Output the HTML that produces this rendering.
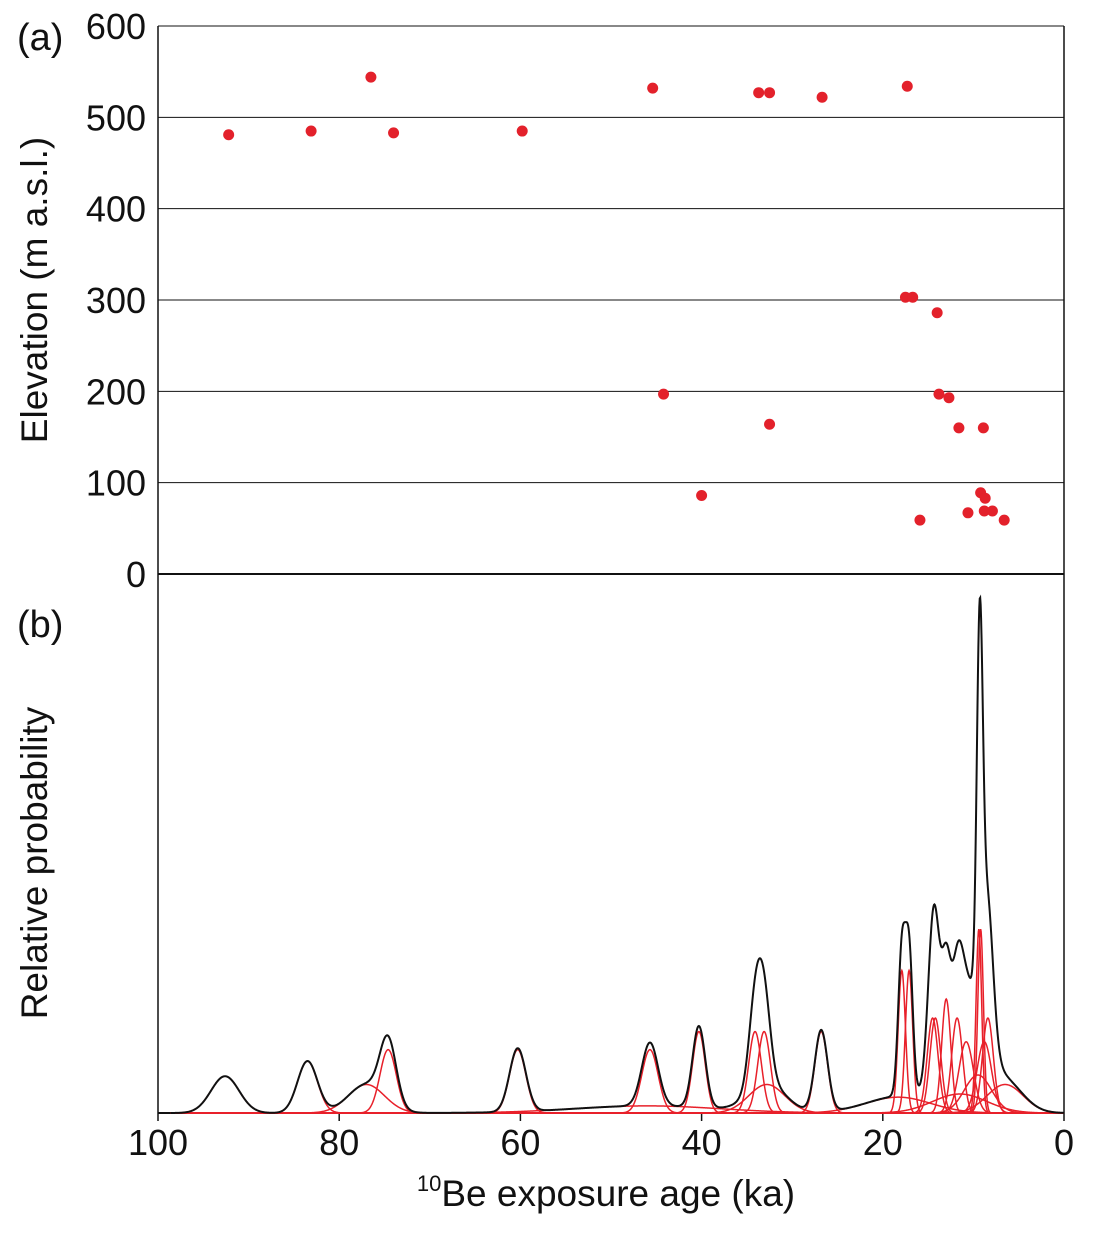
<!DOCTYPE html>
<html><head><meta charset="utf-8"><style>
body{margin:0;background:#fff}
svg text{font-family:"Liberation Sans",Arial,sans-serif;fill:#111}
</style></head><body>
<svg id="c" width="1094" height="1231" xmlns="http://www.w3.org/2000/svg">
<g id="axes"></g><g id="marks"></g>
</svg>
<script>
const ptAges=[92.2,83.1,76.5,74.0,59.8,45.4,44.2,40.0,33.7,32.5,32.5,26.7,17.3,17.5,16.7,15.9,14.0,13.8,12.7,11.6,8.9,10.6,9.2,8.7,8.8,7.9,6.6];
const ptElev=[481,485,544,483,485,532,197,86,527,527,164,522,534,303,303,59,286,197,193,160,160,67,89,83,69,69,59];
const pdfAges=[92.6,83.5,77.0,74.6,60.3,45.7,40.3,34.1,33.1,32.8,26.8,17.9,17.1,18.3,46,14.5,14.2,13.0,11.8,10.8,9.4,9.2,9.5,8.8,8.4,6.5,11.5];
const pdfSig=[1.55,1.1,2.0,0.9,0.9,0.9,0.7,0.7,0.7,2.0,0.7,0.4,0.4,3.6,8,0.6,0.6,0.5,0.6,0.8,0.31,0.31,1.5,0.8,0.6,2.0,3.0];
const elevTicks=[0,100,200,300,400,500,600];
const ageTicks=[100,80,60,40,20,0];
const NS="http://www.w3.org/2000/svg";
const X=a=>1064-(a/100)*906;
const YA=e=>574-e*0.9133;
const YB=p=>1113-57*p;
const ax=document.getElementById('axes'),mk=document.getElementById('marks');
function el(t,a,p){const e=document.createElementNS(NS,t);for(const k in a)e.setAttribute(k,a[k]);(p||ax).appendChild(e);return e;}
elevTicks.forEach(v=>{
 const l=el('line',{x1:158,x2:1064,y1:YA(v),y2:YA(v),stroke:'#111','stroke-width':v==0?2:1});
 
 
 const t=el('text',{x:146,y:YA(v)+13,'text-anchor':'end','font-size':36});t.textContent=v;
 
 
});
el('line',{x1:158,x2:158,y1:26,y2:1113,stroke:'#111','stroke-width':1.5});
el('line',{x1:1064,x2:1064,y1:26,y2:1113,stroke:'#111','stroke-width':1.5});
el('line',{x1:158,x2:1064,y1:1113,y2:1113,stroke:'#111','stroke-width':2});
ageTicks.forEach(v=>{
 el('line',{x1:X(v),x2:X(v),y1:1113,y2:1121,stroke:'#111','stroke-width':1.5});
 const t=el('text',{x:X(v),y:1155,'text-anchor':'middle','font-size':36});t.textContent=v;
 
 
});
let t=el('text',{x:17,y:50,'font-size':38});t.textContent='(a)';

t=el('text',{x:17,y:637,'font-size':38});t.textContent='(b)';

t=el('text',{x:0,y:0,'font-size':37,'text-anchor':'middle',transform:'translate(47,290) rotate(-90)'});t.textContent='Elevation (m a.s.l.)';

t=el('text',{x:0,y:0,'font-size':37,'text-anchor':'middle',transform:'translate(47,863) rotate(-90)'});t.textContent='Relative probability';

t=el('text',{x:606,y:1206,'font-size':37,'text-anchor':'middle'});
t.innerHTML='<tspan font-size="22" dy="-15">10</tspan><tspan dy="15">Be exposure age (ka)</tspan>';

const g=(a,m,s)=>Math.exp(-0.5*((a-m)/s)**2)/s;
const step=0.05;
for(let i=0;i<pdfAges.length;i++){
 let d='';
 for(let a=98.6;a>=0;a-=step){d+=(d?'L':'M')+X(a).toFixed(2)+','+YB(g(a,pdfAges[i],pdfSig[i])).toFixed(2);}
 const p=el('path',{d:d,fill:'none',stroke:'#e8202a','stroke-width':1.5},mk);
 
 
}
let d='';
for(let a=98.6;a>=0;a-=step){let s=0;for(let i=0;i<pdfAges.length;i++)s+=g(a,pdfAges[i],pdfSig[i]);d+=(d?'L':'M')+X(a).toFixed(2)+','+YB(s).toFixed(2);}
const sp=el('path',{d:d,fill:'none',stroke:'#111','stroke-width':2},mk);


ptAges.forEach((a,i)=>{
 const c=el('circle',{cx:X(a),cy:YA(ptElev[i]),r:5.5,fill:'#e3212b'},mk);
 
 
});
</script>
</body></html>
